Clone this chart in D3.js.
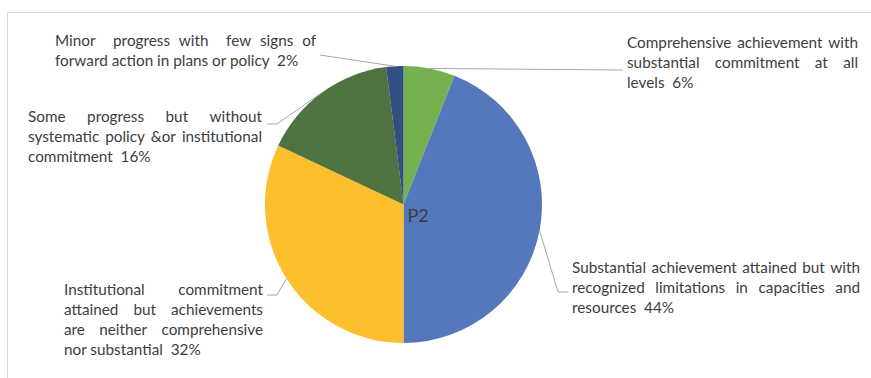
<!DOCTYPE html>
<html>
<head>
<meta charset="utf-8">
<script src="https://cdn.jsdelivr.net/npm/d3@7/dist/d3.min.js"></script>
<style>
body{margin:0;background:#fff;}
svg{display:block;}
</style>
</head>
<body>
<svg id="chart" width="871" height="378"></svg>
<script>
// slices go clockwise from 12 o'clock
var categories = [
	"Comprehensive achievement with substantial commitment at all levels",
	"Substantial achievement attained but with recognized limitations in capacities and resources",
	"Institutional commitment attained but achievements are neither comprehensive nor substantial",
	"Some progress but without systematic policy &or institutional commitment",
	"Minor progress with few signs of forward action in plans or policy"
];
var values = [6, 44, 32, 16, 2];
// label text split the way it wraps in the picture
var labelLines = [
	["Comprehensive achievement with", "substantial commitment at all", "levels  6%"],
	["Substantial achievement attained but with", "recognized limitations in capacities and", "resources  44%"],
	["Institutional commitment", "attained but achievements", "are neither comprehensive", "nor substantial  32%"],
	["Some progress but without", "systematic policy &or institutional", "commitment  16%"],
	["Minor  progress with  few signs of", "forward action in plans or policy  2%"]
];
var title = "P2";

var colors = ["#76b14f", "#5577bc", "#fdbf2e", "#4e7240", "#334f82"];

var svg = d3.select("#chart");
var cx = 403.5, cy = 204.5, r = 138.5;
var fontFam = "Lato, 'Open Sans', sans-serif";
var fontSize = 15.3;
var lineH = 20;

// label boxes: left, right, first baseline, and leader points (label end first)
var boxes = [
	{x0: 627, x1: 858, y: 48, leader: [[623, 70]]},
	{x0: 572, x1: 860, y: 273, leader: [[568, 292], [558, 292]]},
	{x0: 64, x1: 263, y: 295, leader: [[267, 295], [277, 295]]},
	{x0: 28, x1: 262, y: 122, leader: [[267, 124], [277, 124]]},
	{x0: 55, x1: 316, y: 46, leader: [[320, 55]]}
];

// chart frame
svg.append("rect")
	.attr("x", 7.5).attr("y", 12.5)
	.attr("width", 900).attr("height", 400)
	.attr("fill", "none")
	.attr("stroke", "#d9d9d9")
	.attr("stroke-width", 1);

var pie = d3.pie().sort(null).value(function(d){ return d; });
var arcs = pie(values);
var arc = d3.arc().innerRadius(0).outerRadius(r);
var edge = d3.arc().innerRadius(r).outerRadius(r);

var g = svg.append("g").attr("transform", "translate(" + cx + "," + cy + ")");
g.selectAll("path.slice")
	.data(arcs)
	.enter().append("path")
	.attr("class", "slice")
	.attr("d", arc)
	.attr("fill", function(d, i){ return colors[i]; });

// leader lines
var line = d3.line();
arcs.forEach(function(d, i){
	var c = edge.centroid(d);
	var pts = boxes[i].leader.slice();
	pts.push([cx + c[0], cy + c[1]]);
	svg.append("path")
		.attr("d", line(pts))
		.attr("fill", "none")
		.attr("stroke", "#a6a6a6")
		.attr("stroke-width", 1);
});

// measure helper
var meas = svg.append("text")
	.attr("font-family", fontFam)
	.attr("font-size", fontSize)
	.style("white-space", "pre")
	.attr("visibility", "hidden");
function textW(s){
	meas.text(s);
	return meas.node().getComputedTextLength();
}

// justified labels, like the word processor does it: every space stretches the same
labelLines.forEach(function(lines, i){
	var b = boxes[i];
	var t = svg.append("text")
		.attr("font-family", fontFam)
		.attr("font-size", fontSize)
		.attr("fill", "#3d3d3d")
		.style("white-space", "pre");
	lines.forEach(function(ln, j){
		var y = b.y + j * lineH;
		if (j == lines.length - 1){
			t.append("tspan").attr("x", b.x0).attr("y", y).text(ln);
			return;
		}
		var toks = ln.split(" ");
		var words = toks.filter(function(w){ return w.length > 0; });
		var nSp = toks.length - 1;
		var total = 0;
		words.forEach(function(w){ total += textW(w); });
		var sp = (b.x1 - b.x0 - total) / nSp;
		var x = b.x0;
		toks.forEach(function(w){
			if (w.length > 0){
				t.append("tspan").attr("x", x).attr("y", y).text(w);
				x += textW(w);
			}
			x += sp;
		});
	});
});
meas.remove();

svg.append("text")
	.attr("x", cx + 4)
	.attr("y", cy + 17)
	.attr("font-family", fontFam)
	.attr("font-size", 18)
	.attr("fill", "#3d3d3d")
	.text(title);
</script>
</body>
</html>
